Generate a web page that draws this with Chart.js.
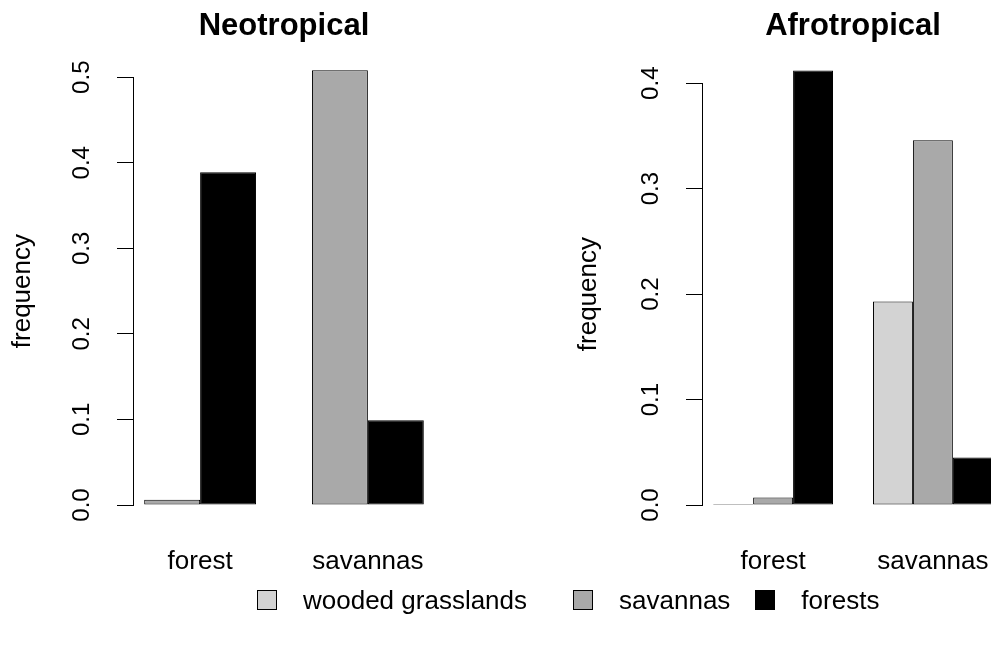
<!DOCTYPE html>
<html>
<head>
<meta charset="utf-8">
<script src="https://cdn.jsdelivr.net/npm/chart.js@4.4.1/dist/chart.umd.min.js"></script>
<style>
  body { margin: 0; background: #fff; }
  #wrap { position: relative; width: 991px; height: 646px; overflow: hidden; font-family: "Liberation Sans", Arial, sans-serif; }
  canvas { position: absolute; top: 0; }
  #neoChart { left: 0; }
  #afroChart { left: 560px; }
  #legend { position: absolute; left: 257px; top: 586px; display: flex; align-items: center; font-size: 26px; line-height: 28px; color: #000; }
  .item { display: flex; align-items: center; }
  .box { width: 18px; height: 18px; border: 1px solid #000; margin-right: 26px; }
  .item:nth-child(1) { margin-right: 46px; }
  .item:nth-child(2) { margin-right: 25px; }
</style>
</head>
<body>
<div id="wrap">
  <canvas id="neoChart" width="480" height="646"></canvas>
  <canvas id="afroChart" width="460" height="646"></canvas>
  <div id="legend"></div>
</div>
<script>
const categories = ['forest', 'savannas'];
const seriesNames = ['wooded grasslands', 'savannas', 'forests'];
const seriesColors = ['#D3D3D3', '#A9A9A9', '#000000'];

// Neotropical has no wooded grassland bars
const neoSavannas = [0.006, 0.508];
const neoForests = [0.389, 0.099];
const neoTicks = [0, 0.1, 0.2, 0.3, 0.4, 0.5];

const afroWooded = [0.0, 0.193];
const afroSavannas = [0.007, 0.346];
const afroForests = [0.412, 0.045];
const afroTicks = [0, 0.1, 0.2, 0.3, 0.4];

Chart.defaults.font.family = '"Liberation Sans", Arial, sans-serif';
Chart.defaults.color = '#000';

// bar layout like R barplot(beside = TRUE): bar width 1, one bar of space before each group
function groupCenters(n) {
    return categories.map((c, i) => 1 + i * (n + 1) + n / 2);
}

function drawPanel(canvasId, title, series, ticks, lay) {
    const n = series.length;
    const centers = groupCenters(n);
    const lo = 1;
    const hi = 1 + (categories.length - 1) * (n + 1) + n;
    const pad = 0.04 * (hi - lo);

    const datasets = series.map(s => ({
        label: s.name,
        data: s.values.map((v, i) => ({ x: centers[i], y: v })),
        backgroundColor: s.color,
        borderColor: '#000',
        borderWidth: 1,
        borderSkipped: false,
        minBarLength: 1,
        clip: false,
        categoryPercentage: n / (n + 1),
        barPercentage: 1
    }));

    const ctx = document.getElementById(canvasId).getContext('2d');
    return new Chart(ctx, {
        type: 'bar',
        data: { datasets },
        options: {
            animation: false,
            responsive: false,
            layout: { padding: { left: 0, right: lay.padRight, top: 0, bottom: 0 } },
            plugins: {
                legend: { display: false },
                tooltip: { enabled: false },
                title: {
                    display: true,
                    text: title,
                    fullSize: false,
                    color: '#000',
                    font: { size: 31, weight: 'bold', lineHeight: 1.2 },
                    padding: { top: 8, bottom: lay.titleGap }
                }
            },
            scales: {
                x: {
                    type: 'linear',
                    offset: false,
                    min: lo - pad,
                    max: hi + pad,
                    afterBuildTicks: sc => { sc.ticks = centers.map(v => ({ value: v })); },
                    afterFit: sc => {
                        sc.height = 141;
                        // labels may run past the edge, as in the original
                        sc.paddingLeft = 0;
                        sc.paddingRight = 0;
                    },
                    grid: { display: false, drawTicks: false, offset: false },
                    border: { display: false },
                    ticks: {
                        autoSkip: false,
                        maxRotation: 0,
                        padding: 41,
                        font: { size: 26 },
                        callback: (v, i) => categories[i]
                    }
                },
                y: {
                    min: 0,
                    max: ticks[ticks.length - 1],
                    afterBuildTicks: sc => { sc.ticks = ticks.map(v => ({ value: v })); },
                    afterFit: sc => { sc.width = lay.axisX; },
                    grid: { drawOnChartArea: false, drawTicks: true, tickLength: 16, color: '#000' },
                    border: { display: true, color: '#000', width: 1 },
                    ticks: {
                        minRotation: 90,
                        maxRotation: 90,
                        crossAlign: 'center',
                        padding: 18,
                        font: { size: 24 },
                        callback: v => v.toFixed(1)
                    },
                    title: {
                        display: true,
                        text: 'frequency',
                        font: { size: 26, lineHeight: 1.2 },
                        padding: { top: lay.labelPad, bottom: 0 }
                    }
                }
            }
        }
    });
}

drawPanel('neoChart', 'Neotropical', [
    { name: seriesNames[1], color: seriesColors[1], values: neoSavannas },
    { name: seriesNames[2], color: seriesColors[2], values: neoForests }
], neoTicks, { axisX: 133, padRight: 45, titleGap: 32, labelPad: 7 });

drawPanel('afroChart', 'Afrotropical', [
    { name: seriesNames[0], color: seriesColors[0], values: afroWooded },
    { name: seriesNames[1], color: seriesColors[1], values: afroSavannas },
    { name: seriesNames[2], color: seriesColors[2], values: afroForests }
], afroTicks, { axisX: 142, padRight: 16, titleGap: 38, labelPad: 13 });

// shared legend under both panels
const legend = document.getElementById('legend');
seriesNames.forEach((name, i) => {
    const item = document.createElement('div');
    item.className = 'item';
    const box = document.createElement('span');
    box.className = 'box';
    box.style.background = seriesColors[i];
    item.appendChild(box);
    item.appendChild(document.createTextNode(name));
    legend.appendChild(item);
});
</script>
</body>
</html>
